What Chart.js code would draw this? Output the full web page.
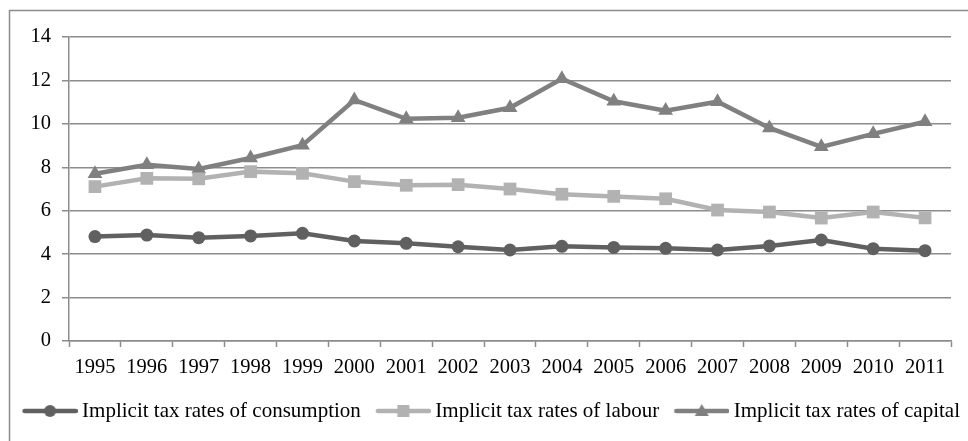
<!DOCTYPE html>
<html>
<head>
<meta charset="utf-8">
<script src="https://cdn.jsdelivr.net/npm/chart.js@4/dist/chart.umd.min.js"></script>
<style>
  html, body { margin: 0; padding: 0; background: #fff; }
  #wrap { width: 968px; height: 441px; position: relative; }
</style>
</head>
<body>
<div id="wrap"><canvas id="c" width="968" height="441"></canvas></div>
<script>
const years = ['1995','1996','1997','1998','1999','2000','2001','2002','2003','2004','2005','2006','2007','2008','2009','2010','2011'];
const consumption = [4.81, 4.88, 4.76, 4.84, 4.96, 4.61, 4.50, 4.34, 4.19, 4.36, 4.31, 4.27, 4.19, 4.38, 4.65, 4.25, 4.16];
const labour      = [7.11, 7.49, 7.47, 7.80, 7.72, 7.34, 7.17, 7.20, 7.00, 6.76, 6.66, 6.55, 6.03, 5.94, 5.66, 5.94, 5.67];
const capital     = [7.70, 8.12, 7.92, 8.43, 9.02, 11.10, 10.23, 10.28, 10.74, 12.08, 11.04, 10.61, 11.02, 9.81, 8.94, 9.54, 10.10];
const seriesNames = ['Implicit tax rates of consumption', 'Implicit tax rates of labour', 'Implicit tax rates of capital'];
const yTicks = [0, 2, 4, 6, 8, 10, 12, 14];

const colConsumption = '#606060';
const colLabour = '#b2b2b2';
const colCapital = '#808080';
const gridColor = '#8c8c8c';
const FAMILY = '"Liberation Serif", "Times New Roman", serif';
const TICK_FONT = { family: FAMILY, size: 20.5 };
const LEGEND_FONT = { family: FAMILY, size: 21 };

// Legend swatch: a short line with the series marker in its middle.
// The swatch box is 56px wide; the line sits toward its right end.
const SWATCH_BOX = 56;
function legendIcon(color, shape) {
  const lineStart = 7, lineLen = 55;
  const half = lineStart + lineLen - SWATCH_BOX / 2;
  const w = half * 2, h = 16;
  const cv = document.createElement('canvas');
  cv.width = w; cv.height = h;
  const g = cv.getContext('2d');
  const x0 = lineStart - (SWATCH_BOX / 2 - half);
  const x1 = x0 + lineLen;
  g.strokeStyle = color; g.fillStyle = color;
  g.lineWidth = 4.5; g.lineCap = 'round';
  g.beginPath(); g.moveTo(x0 + 2, h / 2); g.lineTo(x1 - 2, h / 2); g.stroke();
  const cx = (x0 + x1) / 2, cy = h / 2;
  g.beginPath();
  if (shape === 'circle') {
    g.arc(cx, cy, 6, 0, Math.PI * 2);
  } else if (shape === 'rect') {
    g.rect(cx - 6, cy - 6, 12, 12);
  } else {
    g.moveTo(cx, cy - 7); g.lineTo(cx + 7, cy + 5); g.lineTo(cx - 7, cy + 5); g.closePath();
  }
  g.fill();
  return cv;
}

const icons = [
  legendIcon(colConsumption, 'circle'),
  legendIcon(colLabour, 'rect'),
  legendIcon(colCapital, 'triangle')
];

// Thin frame along the left and top edges of the chart box
const framePlugin = {
  id: 'frame',
  beforeDraw(chart) {
    const ctx = chart.ctx;
    ctx.save();
    ctx.fillStyle = '#fff';
    ctx.fillRect(0, 0, chart.width, chart.height);
    ctx.strokeStyle = '#8c8c8c';
    ctx.lineWidth = 1.5;
    ctx.beginPath();
    ctx.moveTo(9.5, chart.height + 5);
    ctx.lineTo(9.5, 10.5);
    ctx.lineTo(chart.width + 5, 10.5);
    ctx.stroke();
    ctx.restore();
  }
};

function makeDataset(label, data, color, style, radius) {
  return {
    label, data,
    borderColor: color, backgroundColor: color,
    borderWidth: 4.5,
    pointStyle: style, pointRadius: radius, pointHoverRadius: radius,
    pointBorderWidth: 0, pointBackgroundColor: color, pointBorderColor: color,
    tension: 0, fill: false
  };
}

new Chart(document.getElementById('c'), {
  type: 'line',
  data: {
    labels: years,
    datasets: [
      makeDataset(seriesNames[0], consumption, colConsumption, 'circle', 6.5),
      makeDataset(seriesNames[1], labour, colLabour, 'rect', 9),
      makeDataset(seriesNames[2], capital, colCapital, 'triangle', 8.5)
    ]
  },
  options: {
    responsive: false,
    animation: false,
    devicePixelRatio: 1,
    layout: { padding: { left: 0, right: 0, top: 37, bottom: 9.5 } },
    plugins: {
      tooltip: { enabled: false },
      legend: {
        position: 'bottom',
        align: 'end',
        labels: {
          usePointStyle: true,
          pointStyleWidth: SWATCH_BOX,
          padding: 8,
          color: '#000',
          font: LEGEND_FONT,
          generateLabels(chart) {
            return chart.data.datasets.map((ds, i) => ({
              text: ds.label,
              pointStyle: icons[i],
              fillStyle: ds.borderColor,
              strokeStyle: ds.borderColor,
              lineWidth: 0,
              hidden: false,
              datasetIndex: i,
              fontColor: '#000'
            }));
          }
        }
      }
    },
    scales: {
      x: {
        offset: true,
        afterFit(scale) { scale.height = 51.5; },
        grid: {
          offset: true,
          drawOnChartArea: false,
          drawTicks: true,
          tickLength: 6,
          tickWidth: 1.5,
          tickColor: gridColor,
          color: gridColor
        },
        border: { display: true, color: gridColor, width: 1.5 },
        ticks: { color: '#000', font: TICK_FONT, maxRotation: 0, autoSkip: false, padding: 8 }
      },
      y: {
        min: 0, max: 14,
        afterFit(scale) { scale.width = 69; },
        afterBuildTicks(scale) { scale.ticks = yTicks.map(v => ({ value: v })); },
        grid: {
          color: gridColor,
          lineWidth: 1.5,
          drawTicks: true,
          tickLength: 7,
          tickColor: gridColor
        },
        border: { display: true, color: gridColor, width: 1.5 },
        ticks: { color: '#000', font: TICK_FONT, padding: 11 }
      },
      // empty right-hand margin of the plot
      margin: {
        position: 'right',
        afterFit(scale) { scale.width = 17; },
        grid: { display: false, drawTicks: false },
        border: { display: false },
        ticks: { display: false }
      }
    }
  },
  plugins: [framePlugin]
});
</script>
</body>
</html>
